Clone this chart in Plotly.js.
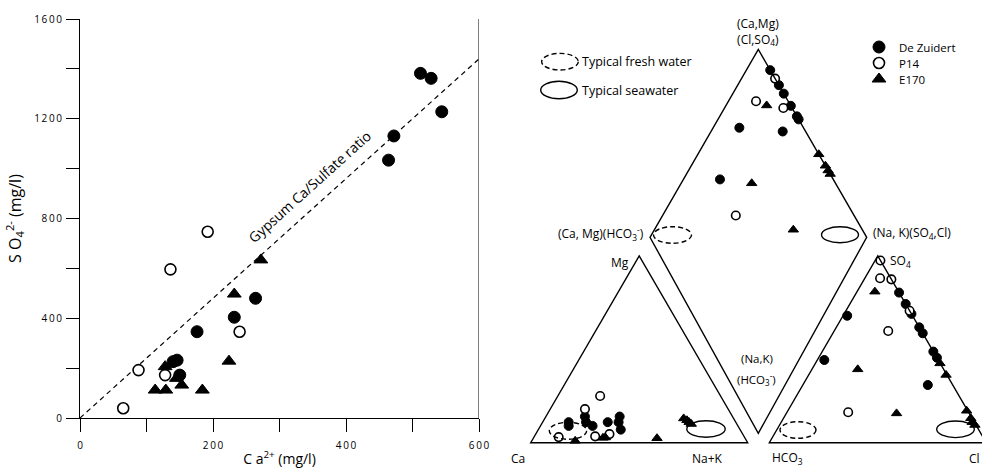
<!DOCTYPE html>
<html><head><meta charset="utf-8">
<script src="https://cdn.plot.ly/plotly-3.0.1.min.js"></script>
<style>html,body{margin:0;padding:0;background:#fff}</style>
</head><body><div id="chart" style="width:982px;height:468px"></div>
<script>
// ---------- Series names ----------
const seriesNames = ['De Zuidert', 'P14', 'E170'];

// ---------- Left panel: Ca vs SO4 (mg/l) ----------
const caDZ  = [512, 528, 544, 472, 464, 264, 232, 176, 140, 146, 150];
const so4DZ = [1382, 1362, 1228, 1131, 1034, 480, 404, 346, 226, 232, 172];
const caP14  = [192, 136, 240, 88, 128, 65];
const so4P14 = [747, 596, 346, 192, 172, 39];
const caE170  = [272, 232, 224, 128, 145, 153, 113, 129, 184];
const so4E170 = [634, 497, 228, 206, 159, 132, 112, 112, 112];
// gypsum Ca/SO4 line
const gypsumCa  = [0, 600];
const gypsumSO4 = [0, 1440];

const xTickVals = [0, 200, 400, 600];
const xTickText = ['0', '200', '400', '600'];
const yTickVals = [0, 400, 800, 1200, 1600];
const yTickText = ['0', '400', '800', '1200', '1600'];
const spaced = a => a.map(t => t.split('').join('\u2009'));

// ---------- Piper: cation triangle (% Na+K, % Mg) ----------
const catNaK_DZ  = [12, 13, 18, 20, 24, 30, 34, 35, 38];
const catMg_DZ   = [11, 9, 14, 11, 9, 11, 14, 11, 7];
const catNaK_P14 = [19.5, 16, 11.4, 28, 34];
const catMg_P14  = [25, 18, 3, 3.4, 4.6];
const catNaK_E170 = [20, 32, 33, 57, 64, 66, 67.5, 69];
const catMg_E170  = [1, 2.6, 2.8, 2.4, 13, 12, 11, 10];

// ---------- Piper: anion triangle (% Cl, % SO4) ----------
const anCl_DZ   = [19.6, 25.7, 31, 38.2, 41.4, 51.2, 54.5, 1.9, 3.2, 57.6];
const anSO4_DZ  = [80.4, 74.3, 69, 61.8, 58.6, 48.8, 45.5, 68, 44.3, 30.9];
const anCl_P14  = [2.4, 7, 12.5, 29.3, 24.9, 28.2];
const anSO4_P14 = [97.6, 88.1, 87.5, 70.7, 59.8, 16.3];
const anCl_E170  = [8.2, 21.1, 50.8, 57.4, 63.3, 82.4, 86.3, 88, 90];
const anSO4_E170 = [80.9, 39.3, 15.7, 42.5, 36.3, 17.1, 13.1, 11, 9.5];

// ---------- Piper: diamond (% Na+K, % Cl+SO4) ----------
const diaNaK_DZ  = [11, 19, 23.5, 30, 35.6, 37.2, 12, 33, 16.7];
const diaAn_DZ   = [100, 100, 100, 100, 100, 100, 70.5, 89.5, 47.9];
const diaNaK_P14 = [15.5, 12.7, 27.1, 33.4];
const diaAn_P14  = [100, 85.2, 96, 45.8];
const diaNaK_E170 = [18.7, 55.8, 61.9, 64.4, 66.3, 32.3, 63.7];
const diaAn_E170  = [89, 100, 100, 100, 100, 61.6, 68.6];

// ---------- Piper geometry (in the right panel's coordinate frame) ----------
const G = {
  cat: {A: [530.7, 442.7], B: [747.7, 442.7], C: [639.2, 256]},
  an:  {A: [769.3, 442.7], B: [986.3, 442.7], C: [877.8, 256]},
  dia: {L: [650, 237.3], Bt: [758.3, 433.3], T: [758.3, 49.5], R: [866.7, 237.3]}
};
function tern(tri, pB, pC) {
  const xs = [], ys = [];
  for (let i = 0; i < pB.length; i++) {
    const b = pB[i] / 100, c = pC[i] / 100;
    xs.push(tri.A[0] + b * (tri.B[0] - tri.A[0]) + c * (tri.C[0] - tri.A[0]));
    ys.push(tri.A[1] + b * (tri.B[1] - tri.A[1]) + c * (tri.C[1] - tri.A[1]));
  }
  return [xs, ys];
}
function diam(pN, pA) {
  const d = G.dia, xs = [], ys = [];
  for (let i = 0; i < pN.length; i++) {
    const a = pN[i] / 100, b = pA[i] / 100;
    const w = [(1 - a) * (1 - b), a * (1 - b), (1 - a) * b, a * b];
    xs.push(w[0] * d.L[0] + w[1] * d.Bt[0] + w[2] * d.T[0] + w[3] * d.R[0]);
    ys.push(w[0] * d.L[1] + w[1] * d.Bt[1] + w[2] * d.T[1] + w[3] * d.R[1]);
  }
  return [xs, ys];
}

const styles = [
  {symbol: 'circle', color: 'black', line: {color: 'black', width: 1}},
  {symbol: 'circle', color: 'white', line: {color: 'black', width: 1.6}},
  {symbol: 'triangle-up', color: 'black', line: {color: 'black', width: 1}}
];
const leftSizes = [12, 11, 12];
const piperSizes = [9, 8.5, 9];
const legendIds = ['legend', 'legend2', 'legend3'];

const leftX = [caDZ, caP14, caE170], leftY = [so4DZ, so4P14, so4E170];
const traces = [];
traces.push({x: gypsumCa, y: gypsumSO4, mode: 'lines', type: 'scatter', xaxis: 'x', yaxis: 'y',
  line: {color: 'black', width: 1.2, dash: '5px,4px'}, showlegend: false, hoverinfo: 'skip'});
for (let s = 0; s < 3; s++) {
  traces.push({x: leftX[s], y: leftY[s], mode: 'markers', type: 'scatter', name: seriesNames[s],
    legendgroup: seriesNames[s], legend: legendIds[s], xaxis: 'x', yaxis: 'y',
    marker: Object.assign({size: leftSizes[s]}, styles[s])});
}
const catP = [tern(G.cat, catNaK_DZ, catMg_DZ), tern(G.cat, catNaK_P14, catMg_P14), tern(G.cat, catNaK_E170, catMg_E170)];
const anP = [tern(G.an, anCl_DZ, anSO4_DZ), tern(G.an, anCl_P14, anSO4_P14), tern(G.an, anCl_E170, anSO4_E170)];
const diP = [diam(diaNaK_DZ, diaAn_DZ), diam(diaNaK_P14, diaAn_P14), diam(diaNaK_E170, diaAn_E170)];
for (const group of [catP, anP, diP]) {
  for (let s = 0; s < 3; s++) {
    traces.push({x: group[s][0], y: group[s][1], mode: 'markers', type: 'scatter', name: seriesNames[s],
      legendgroup: seriesNames[s], showlegend: false, xaxis: 'x2', yaxis: 'y2',
      marker: Object.assign({size: piperSizes[s]}, styles[s])});
  }
}

const lineStyle = {color: 'black', width: 1.4};
function triPath(t) {
  return `M${t.A[0]},${t.A[1]} L${t.B[0]},${t.B[1]} L${t.C[0]},${t.C[1]} Z`;
}
const d = G.dia;
const shapes = [
  // right border of left panel
  {type: 'line', xref: 'x', yref: 'y', x0: 600, x1: 600, y0: 0, y1: 1600, line: {color: 'black', width: 1}},
  {type: 'path', xref: 'x2', yref: 'y2', path: triPath(G.cat), line: lineStyle},
  {type: 'path', xref: 'x2', yref: 'y2', path: triPath(G.an), line: lineStyle},
  {type: 'path', xref: 'x2', yref: 'y2',
    path: `M${d.L[0]},${d.L[1]} L${d.T[0]},${d.T[1]} L${d.R[0]},${d.R[1]} L${d.Bt[0]},${d.Bt[1]} Z`, line: lineStyle}
];
function ell(cx, cy, rx, ry, dash) {
  return {type: 'circle', xref: 'x2', yref: 'y2', x0: cx - rx, x1: cx + rx, y0: cy - ry, y1: cy + ry,
    line: {color: 'black', width: 1.4, dash: dash ? '5px,3px' : 'solid'}};
}
// typical fresh water (dashed) and seawater (solid) fields
shapes.push(ell(568, 430.8, 18.7, 8.5, true), ell(706, 429, 19.2, 8.3, false));
shapes.push(ell(798, 430, 18, 8.3, true), ell(955.5, 429.3, 18.8, 8.3, false));
shapes.push(ell(672.5, 235, 19, 8.3, true), ell(840, 234.7, 18.5, 8, false));
// legend ellipses
shapes.push(ell(560, 61.7, 18.3, 8.3, true), ell(559, 90, 18.3, 8.8, false));

const F = 'Open Sans, sans-serif';
function ann(x, y, text, xanchor, size) {
  return {xref: 'x2', yref: 'y2', x: x, y: y, text: text, showarrow: false, xanchor: xanchor || 'center',
    yanchor: 'middle', font: {family: F, size: size || 12, color: 'black'}};
}
const annotations = [
  {xref: 'x', yref: 'y', x: 345, y: 930, text: 'Gypsum Ca/Sulfate ratio', textangle: -42, showarrow: false,
    font: {family: F, size: 14, color: 'black'}},
  ann(758.3, 31, '(Ca,Mg)<br>(Cl,SO<sub>4</sub>)'),
  ann(646, 233, '(Ca, Mg)(HCO<sub>3</sub><sup>-</sup>)', 'right'),
  ann(871, 233, '(Na, K)(SO<sub>4</sub>,Cl)', 'left'),
  ann(631, 262, 'Mg', 'right'),
  ann(888, 261, 'SO<sub>4</sub>', 'left'),
  ann(756.5, 358.5, '(Na,K)', 'center', 11.5),
  ann(756.5, 378.5, '(HCO<sub>3</sub><sup>-</sup>)', 'center', 11.5),
  ann(518, 458, 'Ca'),
  ann(707, 458, 'Na+K'),
  ann(770, 458, 'HCO<sub>3</sub>', 'left'),
  ann(967, 458, 'Cl', 'left'),
  ann(580, 61, 'Typical fresh water', 'left', 12.5),
  ann(580, 90, 'Typical seawater', 'left', 12.5)
];

function legendAt(yPix) {
  return {x: 859 / 982, y: 1 - yPix / 468, xanchor: 'left', yanchor: 'middle', bgcolor: 'rgba(0,0,0,0)',
    font: {family: F, size: 11.5, color: 'black'}};
}

const layout = {
  width: 982, height: 468,
  margin: {l: 0, r: 0, t: 0, b: 0},
  paper_bgcolor: 'white', plot_bgcolor: 'rgba(0,0,0,0)',
  font: {family: F, color: 'black'},
  showlegend: true,
  legend: legendAt(47), legend2: legendAt(63), legend3: legendAt(79),
  xaxis: {domain: [80 / 982, 479 / 982], range: [0, 600], showgrid: false, zeroline: false,
    showline: true, linecolor: 'black', linewidth: 1, ticks: 'outside', ticklen: 13, tickcolor: 'black',
    tickvals: xTickVals, ticktext: spaced(xTickText), tickfont: {family: F, size: 10, color: 'black'},
    ticklabelstandoff: 5,
    minor: {tickvals: [100, 300, 500], ticks: 'outside', ticklen: 13, tickcolor: 'black'},
    title: {text: 'C a<sup>2+</sup> (mg/l)', font: {family: F, size: 14, color: 'black'}, standoff: 4},
    anchor: 'y'},
  yaxis: {domain: [50 / 468, 449 / 468], range: [0, 1600], showgrid: false, zeroline: false,
    showline: true, linecolor: 'black', linewidth: 1, ticks: 'outside', ticklen: 13, tickcolor: 'black',
    tickvals: yTickVals, ticktext: spaced(yTickText), tickfont: {family: F, size: 10, color: 'black'},
    ticklabelstandoff: 2,
    minor: {tickvals: [200, 600, 1000, 1400], ticks: 'outside', ticklen: 13, tickcolor: 'black'},
    title: {text: 'S O<sub>4</sub><sup>2-</sup> (mg/l)', font: {family: F, size: 16, color: 'black'}, standoff: 8},
    anchor: 'x'},
  xaxis2: {domain: [490 / 982, 1], range: [490, 982], visible: false, anchor: 'y2', fixedrange: true},
  yaxis2: {domain: [0, 1], range: [468, 0], visible: false, anchor: 'x2', fixedrange: true},
  shapes: shapes,
  annotations: annotations
};
Plotly.newPlot('chart', traces, layout, {displayModeBar: false, staticPlot: true});
</script>
</body></html>
